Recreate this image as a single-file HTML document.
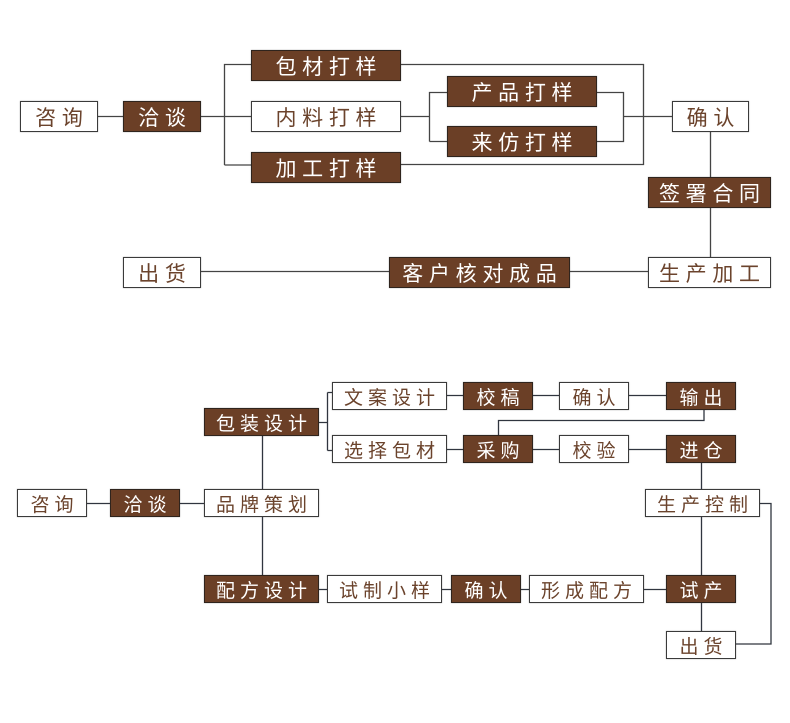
<!DOCTYPE html>
<html lang="zh"><head><meta charset="utf-8"><style>
html,body{margin:0;padding:0;background:#fff}
#p{position:relative;width:790px;height:723px;overflow:hidden;background:#fff;font-family:"Liberation Sans","Noto Sans CJK SC",sans-serif}
svg{position:absolute;left:0;top:0}
.b{position:absolute;box-sizing:border-box;border:1px solid #3a3a3a;box-shadow:0 0 1px rgba(60,60,60,.55);display:flex;align-items:center;justify-content:center;white-space:nowrap;background:#fff;color:#6b432c;font-weight:400}
.d{background:#6b3f26;color:#fff;border-color:#2f241d}
.t{font-size:21px;letter-spacing:5.7px;text-indent:5.7px;height:31px}
.s{font-size:19px;letter-spacing:5px;text-indent:5px;height:28px}
</style></head><body><div id="p">
<svg width="790" height="723" fill="none" stroke="#444" stroke-width="1.3">
<path d="M98 116.5H123M201 116.5H251M224.5 165V64.5H251M224.5 165H251M401 64.5H643.5V164.5H401M401 116.5H429.5M429.5 141.5V92.5H447M429.5 141.5H447M597 92.5H623.5V141.5H597M623.5 116.5H672M710.5 132V177M710.5 208V257M648 271.5H570M389 271.5H201"/>
<path stroke="#30353f" d="M87 503.5H110M180 503.5H204M262.5 436V489M262.5 517V576M319 422.5H327.5M327.5 392.5V450.5M327.5 392.5H332M327.5 450.5H332M447 395.5H463M533 395.5H559M629 395.5H666M447 449.5H463M533 449.5H559M629 449.5H666M704 409V420.5H498.5V435M701.5 463V490M701.5 517V576M701.5 603V631M319 589.5H327M442 589.5H451M521 589.5H529M644 589.5H666M760 503.5H771V644H736"/>
</svg>
<div class="b t" style="left:20px;top:101px;width:78px">咨询</div>
<div class="b t d" style="left:123px;top:101px;width:78px">洽谈</div>
<div class="b t d" style="left:251px;top:50px;width:150px">包材打样</div>
<div class="b t" style="left:251px;top:101px;width:150px">内料打样</div>
<div class="b t d" style="left:251px;top:152px;width:150px">加工打样</div>
<div class="b t d" style="left:447px;top:76px;width:150px">产品打样</div>
<div class="b t d" style="left:447px;top:126px;width:150px">来仿打样</div>
<div class="b t" style="left:672px;top:101px;width:77px">确认</div>
<div class="b t d" style="left:648px;top:177px;width:123px">签署合同</div>
<div class="b t" style="left:648px;top:257px;width:123px">生产加工</div>
<div class="b t d" style="left:389px;top:257px;width:181px">客户核对成品</div>
<div class="b t" style="left:123px;top:257px;width:78px">出货</div>

<div class="b s d" style="left:204px;top:408px;width:115px">包装设计</div>
<div class="b s" style="left:332px;top:382px;width:115px">文案设计</div>
<div class="b s d" style="left:463px;top:382px;width:70px">校稿</div>
<div class="b s" style="left:559px;top:382px;width:70px">确认</div>
<div class="b s d" style="left:666px;top:382px;width:70px">输出</div>
<div class="b s" style="left:332px;top:435px;width:115px">选择包材</div>
<div class="b s d" style="left:463px;top:435px;width:70px">采购</div>
<div class="b s" style="left:559px;top:435px;width:70px">校验</div>
<div class="b s d" style="left:666px;top:435px;width:70px">进仓</div>
<div class="b s" style="left:17px;top:489px;width:70px">咨询</div>
<div class="b s d" style="left:110px;top:489px;width:70px">洽谈</div>
<div class="b s" style="left:204px;top:489px;width:115px">品牌策划</div>
<div class="b s" style="left:645px;top:489px;width:115px">生产控制</div>
<div class="b s d" style="left:204px;top:575px;width:115px">配方设计</div>
<div class="b s" style="left:327px;top:575px;width:115px">试制小样</div>
<div class="b s d" style="left:451px;top:575px;width:70px">确认</div>
<div class="b s" style="left:529px;top:575px;width:115px">形成配方</div>
<div class="b s d" style="left:666px;top:575px;width:70px">试产</div>
<div class="b s" style="left:666px;top:631px;width:70px">出货</div>
</div></body></html>
